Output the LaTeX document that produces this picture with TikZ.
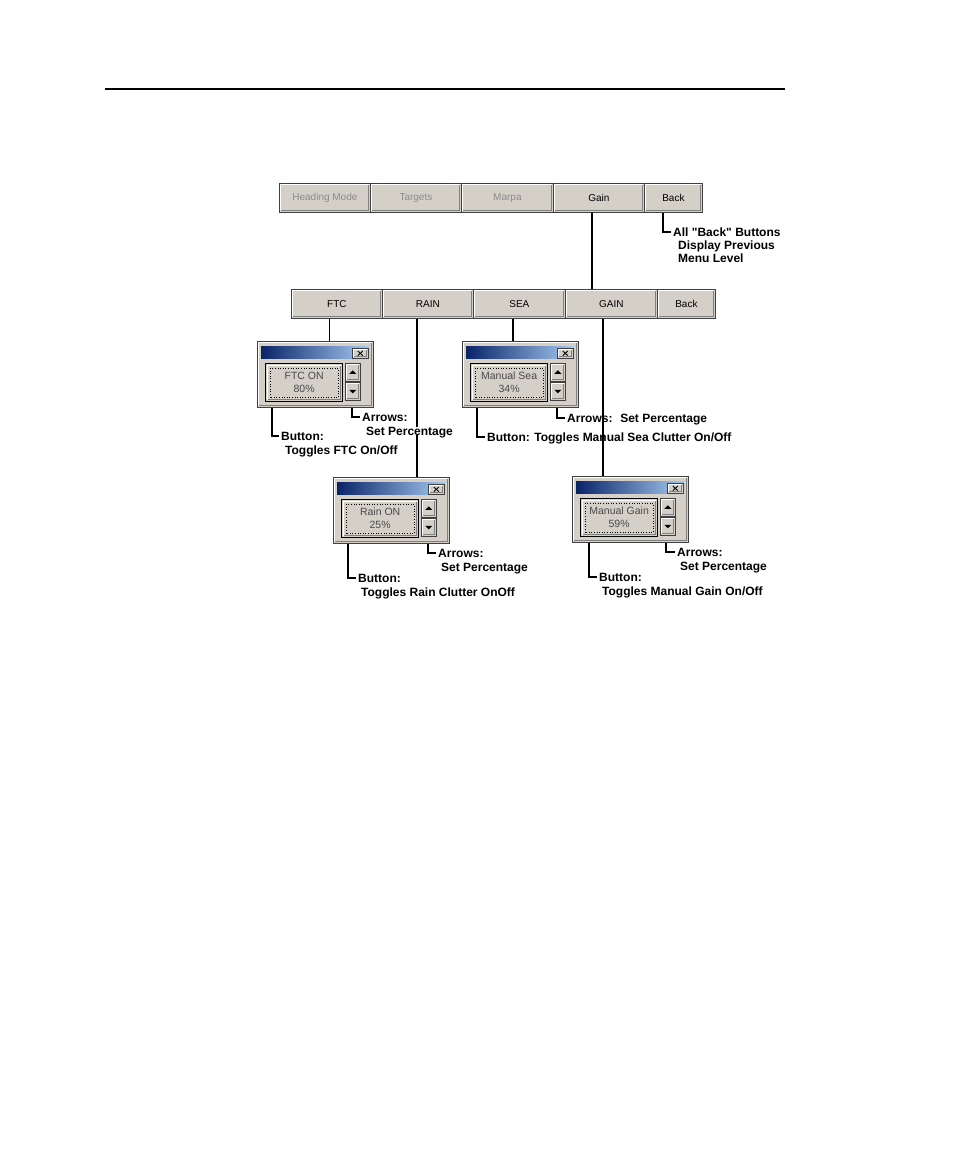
\documentclass[tikz,border=0pt]{standalone}
\usepackage{fontspec}
\setmainfont{Liberation Sans}[Ligatures=TeXOff]
\definecolor{winface}{HTML}{D4D0C8}
\definecolor{windark}{HTML}{404040}
\definecolor{winshadow}{HTML}{808080}
\definecolor{winnavy}{HTML}{0A246A}
\definecolor{winlight}{HTML}{A6CAF0}
\definecolor{disgray}{HTML}{8A8A8A}
\definecolor{dlgtext}{HTML}{4A4A4A}
\pgfdeclarelayer{bg}
\pgfdeclarelayer{paper}
\pgfsetlayers{paper,bg,main}
\tikzset{
  bevel/.style={path picture={
    \draw[white,line width=1pt] ([shift={(1.5pt,1.5pt)}]path picture bounding box.south west) |- ([shift={(-1.5pt,-1.5pt)}]path picture bounding box.north east);
    \draw[winshadow,line width=1pt] ([shift={(1.5pt,1.5pt)}]path picture bounding box.south west) -| ([shift={(-1.5pt,-1.5pt)}]path picture bounding box.north east);}},
  menubtn/.style={anchor=north west, minimum height=29, inner sep=0pt, fill=winface, draw=windark, line width=0.8pt, bevel, font=\fontsize{10}{12}\selectfont},
  dlgframe/.style={anchor=north west, minimum width=116, minimum height=66, inner sep=0pt, fill=winface, draw=windark, line width=0.8pt, bevel},
  titlebar/.style={anchor=north west, minimum width=108, minimum height=12, inner sep=0pt, left color=winnavy, right color=winlight, draw=none},
  closebtn/.style={anchor=north west, minimum width=16, minimum height=10, inner sep=0pt, fill=winface, draw=windark, line width=0.6pt, bevel},
  xmark/.style={line width=0.9pt, black},
  spinbtn/.style={anchor=north west, minimum width=15, minimum height=18, inner sep=0pt, fill=winface, draw=windark, line width=0.6pt, bevel},
  defbtn/.style={anchor=north west, minimum width=77, minimum height=38, inner sep=0pt, fill=winface, draw=black, line width=1.3pt, align=center, text=dlgtext, font=\fontsize{10.5}{13}\selectfont,
    path picture={
    \draw[white,line width=1pt] ([shift={(2pt,2pt)}]path picture bounding box.south west) |- ([shift={(-2pt,-2pt)}]path picture bounding box.north east);
    \draw[winshadow,line width=1pt] ([shift={(2pt,2pt)}]path picture bounding box.south west) -| ([shift={(-2pt,-2pt)}]path picture bounding box.north east);
    \draw[black,dotted,line width=0.6pt] ([shift={(4.5pt,4.5pt)}]path picture bounding box.south west) rectangle ([shift={(-4.5pt,-4.5pt)}]path picture bounding box.north east);}},
  lbl/.style={anchor=west, inner xsep=2pt, inner ysep=0pt, text height=8.6pt, text depth=0pt, font=\bfseries\fontsize{12}{13}\selectfont},
  leader/.style={line width=2pt, black, line join=miter},
  conn/.style={line width=1.8pt, black}
}
\newcommand{\winDlg}[5]{%
  \node[dlgframe] (#1) at (#2,#3) {};
  \node[titlebar] (#1title) at ([shift={(4,5)}]#1.north west) {};
  \node[closebtn] (#1close) at ([shift={(95,7)}]#1.north west) {};
  \draw[xmark] ([shift={(-2.5pt,-2.3pt)}]#1close.center) -- ([shift={(2.5pt,2.3pt)}]#1close.center)
               ([shift={(-2.5pt,2.3pt)}]#1close.center) -- ([shift={(2.5pt,-2.3pt)}]#1close.center);
  \node[defbtn] (#1btn) at ([shift={(8,22)}]#1.north west) {#4\\#5};
  \node[spinbtn] (#1up) at ([shift={(88,22)}]#1.north west) {};
  \node[spinbtn] (#1dn) at ([shift={(88,41)}]#1.north west) {};
  \fill ([shift={(-3.5pt,-1.5pt)}]#1up.center) -- ([shift={(3.5pt,-1.5pt)}]#1up.center) -- ([shift={(0pt,2pt)}]#1up.center) -- cycle;
  \fill ([shift={(-3.5pt,1.5pt)}]#1dn.center) -- ([shift={(3.5pt,1.5pt)}]#1dn.center) -- ([shift={(0pt,-2pt)}]#1dn.center) -- cycle;
}
\begin{document}
\begin{tikzpicture}[x=1pt,y=-1pt]
\useasboundingbox (0,0) rectangle (954,1159);
\begin{pgfonlayer}{paper}
\fill[white] (0,0) rectangle (954,1159);
\end{pgfonlayer}
% page rule
\draw[line width=2pt] (105,89) -- (785,89);

% top menu bar
\node[menubtn,minimum width=91,text=disgray] (hm) at (279,183) {Heading Mode};
\node[menubtn,minimum width=91,text=disgray] (tg) at (370,183) {Targets};
\node[menubtn,minimum width=92,text=disgray] (mp) at (461,183) {Marpa};
\node[menubtn,minimum width=91] (gn) at (553,183) {Gain};
\node[menubtn,minimum width=58] (bk) at (644,183) {Back};

% second menu bar
\node[menubtn,minimum width=91] (mFTC) at (291,289) {FTC};
\node[menubtn,minimum width=91] (mRAIN) at (382,289) {RAIN};
\node[menubtn,minimum width=92] (mSEA) at (473,289) {SEA};
\node[menubtn,minimum width=92] (mGAIN) at (565,289) {GAIN};
\node[menubtn,minimum width=58] (mBack) at (657,289) {Back};

% dialogs
\winDlg{dftc}{257}{341}{FTC ON}{80\%}
\winDlg{dsea}{462}{341}{Manual Sea}{34\%}
\winDlg{drain}{333}{477}{Rain ON}{25\%}
\winDlg{dgain}{572}{476}{Manual Gain}{59\%}

% labels
\node[lbl] (backl) at (671,232) {All "Back" Buttons};
\node[lbl] (backl2) at (676,245) {Display Previous};
\node[lbl] (backl3) at (676,258) {Menu Level};

\node[lbl] (ftcA) at (360,417) {Arrows:};
\node[lbl,fill=white] (ftcA2) at (364,431) {Set Percentage};
\node[lbl] (ftcB) at (279,436) {Button:};
\node[lbl] (ftcB2) at (283,450) {Toggles FTC On/Off};

\node[lbl] (seaA) at (565,418) {Arrows:~ Set Percentage};
\node[lbl] (seaB) at (485,437) {Button: Toggles Manual Sea Clutter On/Off};

\node[lbl] (rainA) at (436,553) {Arrows:};
\node[lbl] (rainA2) at (439,567) {Set Percentage};
\node[lbl] (rainB) at (356,578) {Button:};
\node[lbl] (rainB2) at (359,592) {Toggles Rain Clutter OnOff};

\node[lbl] (gainA) at (675,552) {Arrows:};
\node[lbl] (gainA2) at (678,566) {Set Percentage};
\node[lbl] (gainB) at (597,577) {Button:};
\node[lbl] (gainB2) at (600,591) {Toggles Manual Gain On/Off};

% connectors
\coordinate (xg) at (592,0);
\coordinate (xb) at (663,0);
\coordinate (xf) at (329,0);
\coordinate (xr) at (417,0);
\coordinate (xs) at (513,0);
\coordinate (xn) at (603,0);
\begin{pgfonlayer}{bg}
\draw[conn,line width=1.4pt] (gn.south -| xg) -- (mGAIN.north -| xg);
\draw[leader] (bk.south -| xb) |- (backl.west);
\draw[conn,line width=1pt] (mFTC.south -| xf) -- (dftc.north -| xf);
\draw[conn] (mRAIN.south -| xr) -- (drain.north -| xr);
\draw[conn] (mSEA.south -| xs) -- (dsea.north -| xs);
\draw[conn] (mGAIN.south -| xn) -- (dgain.north -| xn);
\draw[leader] ([xshift=95pt]dftc.south west) |- (ftcA.west);
\draw[leader] ([xshift=15pt]dftc.south west) |- (ftcB.west);
\draw[leader] ([xshift=95pt]dsea.south west) |- (seaA.west);
\draw[leader] ([xshift=15pt]dsea.south west) |- (seaB.west);
\draw[leader] ([xshift=95pt]drain.south west) |- (rainA.west);
\draw[leader] ([xshift=15pt]drain.south west) |- (rainB.west);
\draw[leader] ([xshift=94pt]dgain.south west) |- (gainA.west);
\draw[leader] ([xshift=17pt]dgain.south west) |- (gainB.west);
\end{pgfonlayer}
\end{tikzpicture}
\end{document}
